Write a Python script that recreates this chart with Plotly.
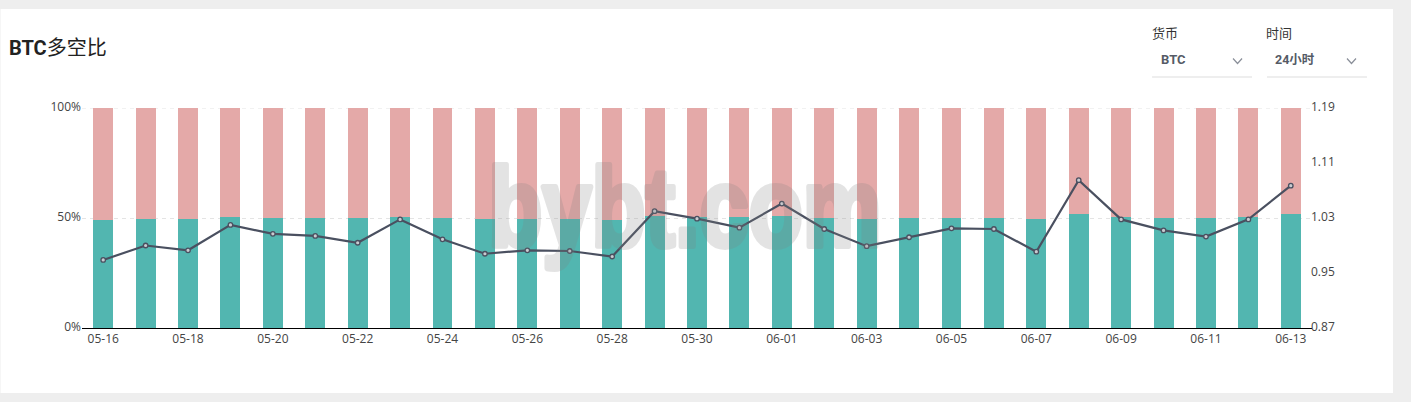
import plotly.graph_objects as go

dates = ["05-16","05-17","05-18","05-19","05-20","05-21","05-22","05-23","05-24","05-25",
         "05-26","05-27","05-28","05-29","05-30","05-31","06-01","06-02","06-03","06-04",
         "06-05","06-06","06-07","06-08","06-09","06-10","06-11","06-12","06-13"]
long_pct = [49.2,49.7,49.6,50.5,50.1,50.1,49.8,50.6,50.0,49.4,49.7,49.7,49.3,50.9,50.5,50.3,
            51.0,50.2,49.7,50.0,50.2,50.2,49.5,52.0,50.6,50.1,50.1,50.6,51.9]
short_pct = [round(100 - v, 1) for v in long_pct]
ratio = [0.969,0.990,0.983,1.020,1.007,1.004,0.994,1.028,0.999,0.978,0.983,0.982,0.974,1.040,
         1.029,1.016,1.051,1.014,0.989,1.002,1.015,1.014,0.981,1.085,1.028,1.012,1.003,1.028,1.077]
pct_ticks = [0, 50, 100]
pct_labels = ["0%", "50%", "100%"]
ratio_ticks = [0.87, 0.95, 1.03, 1.11, 1.19]

W, H = 1411, 402
ML, MR, MT, MB = 81.5, 99, 108, 74
TICK = "#444444"
FONT = "'Open Sans', 'Noto Sans CJK SC', sans-serif"
TITLE_FONT = "Roboto, 'Noto Sans CJK SC', sans-serif"

# paper coordinates are relative to the plot area, so convert from page pixels
def px(x): return (x - ML) / (W - ML - MR)
def py(y): return 1 - (y - MT) / (H - MT - MB)

fig = go.Figure()
fig.add_bar(x=dates, y=long_pct, marker=dict(color="#52b6b0", line_width=0), name="多")
fig.add_bar(x=dates, y=short_pct, marker=dict(color="#e4a9a8", line_width=0), name="空")
fig.add_scatter(x=dates, y=ratio, yaxis="y2", mode="lines+markers", name="多空比",
                line=dict(color="#4a5060", width=2.2),
                marker=dict(size=4.5, color="#c9cbd0", line=dict(color="#4a5060", width=1.3)))

def label(x, y, text, size, color, bold=False, family=TITLE_FONT, xanchor="left", opacity=1):
    t = f"<b>{text}</b>" if bold else text
    return dict(text=t, x=px(x), y=py(y), xref="paper", yref="paper", showarrow=False,
                xanchor=xanchor, yanchor="middle", align="left", opacity=opacity,
                font=dict(size=size, color=color, family=family))

def chevron(cx, cy):
    return dict(type="path", xref="paper", yref="paper",
                path=f"M {px(cx-4.5)} {py(cy-2.5)} L {px(cx)} {py(cy+2.5)} L {px(cx+4.5)} {py(cy-2.5)}",
                line=dict(color="#8a8f99", width=1.2))

def rule(x0, x1, y):
    return dict(type="line", xref="paper", yref="paper", x0=px(x0), x1=px(x1), y0=py(y), y1=py(y),
                line=dict(color="#dddddd", width=1))

fig.update_layout(
    width=W, height=H, autosize=False,
    barmode="stack", bargap=0.53, showlegend=False, hovermode="x",
    paper_bgcolor="#eeeeee", plot_bgcolor="rgba(0,0,0,0)",
    margin=dict(l=ML, r=MR, t=MT, b=MB),
    font=dict(family=FONT, size=12, color=TICK),
    xaxis=dict(type="category", tickmode="array", tickvals=dates[::2], ticktext=dates[::2],
               showgrid=False, showline=True, linecolor="#000000", linewidth=1, ticks="",
               tickangle=0, tickfont=dict(size=12, color=TICK), range=[-0.5, len(dates) - 0.5]),
    yaxis=dict(range=[0, 100], tickmode="array", tickvals=pct_ticks, ticktext=pct_labels,
               showgrid=True, griddash="4px,4px", gridcolor="#e4e4e4", gridwidth=1,
               zeroline=False, ticks="", showline=False, ticklabelshift=-1,
               tickfont=dict(size=12, color=TICK)),
    yaxis2=dict(range=[0.87, 1.19], overlaying="y", side="right", tickmode="array",
                tickvals=ratio_ticks, ticktext=[f"{v:.2f}" for v in ratio_ticks],
                showgrid=False, zeroline=False, ticks="", showline=False, ticklabelstandoff=-2,
                ticklabelshift=-1, tickfont=dict(size=12, color=TICK)),
    shapes=[
        dict(type="rect", xref="paper", yref="paper", x0=px(0), x1=px(1393), y0=py(393), y1=py(9),
             fillcolor="#ffffff", line_width=0, layer="below"),
        dict(type="line", xref="paper", yref="y", x0=0, x1=1, y0=100, y1=100, layer="below",
             line=dict(color="#e4e4e4", width=1, dash="4px,4px")),
        rule(1152, 1252, 77), rule(1267, 1367, 77),
        chevron(1237.5, 61), chevron(1351.5, 61),
    ],
    annotations=[
        label(6, 48, "<b>BTC</b>多空比", 20, "#222222"),
        label(1150, 34, "货币", 13, "#333333"),
        label(1264, 34, "时间", 13, "#333333"),
        label(1159, 60, "BTC", 13, "#555b66", bold=True),
        label(1273, 60, "24小时", 12.5, "#555b66", bold=True),
        label(685, 207, "bybt.com", 112, "rgb(128,128,128)", bold=True,
              family="'Liberation Sans', sans-serif", xanchor="center", opacity=0.21),
    ],
)

squeeze = """
document.body.style.margin='0';document.body.style.overflow='hidden';
document.querySelectorAll('.annotation-text').forEach(function(t){
  if(t.textContent==='bybt.com'){
    var b=t.getBBox(),cx=b.x+b.width/2;
    t.style.stroke='rgb(128,128,128)';t.style.strokeWidth='6px';t.style.strokeLinejoin='round';
    t.setAttribute('transform','translate('+cx+',0) scale(0.79,1) translate('+(-cx)+',0)');
  }
});
"""
fig.write_html("out.html", config={"displayModeBar": False}, post_script=squeeze)
